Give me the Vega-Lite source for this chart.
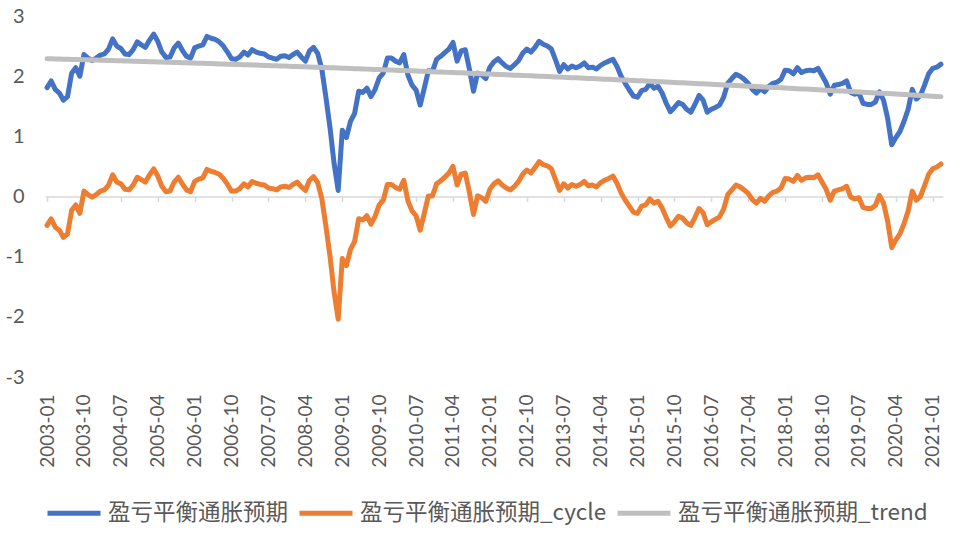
{
  "$schema": "https://vega.github.io/schema/vega-lite/v6.json",
  "width": 898,
  "height": 361,
  "autosize": {"type": "none"},
  "padding": {"left": 45, "top": 16, "right": 23, "bottom": 158},
  "background": "white",
  "config": {"view": {"stroke": null}},
  "data": {"values": [
{"m":"2003-01","a":1.81,"c":-0.48,"t":2.290},{"m":"2003-02","a":1.92,"c":-0.37,"t":2.288},{"m":"2003-03","a":1.78,"c":-0.51,"t":2.286},{"m":"2003-04","a":1.72,"c":-0.56,"t":2.284},{"m":"2003-05","a":1.60,"c":-0.68,"t":2.282},{"m":"2003-06","a":1.66,"c":-0.62,"t":2.281},{"m":"2003-07","a":2.05,"c":-0.23,"t":2.279},{"m":"2003-08","a":2.14,"c":-0.14,"t":2.277},{"m":"2003-09","a":2.00,"c":-0.28,"t":2.275},{"m":"2003-10","a":2.36,"c":0.09,"t":2.273},{"m":"2003-11","a":2.30,"c":0.03,"t":2.271},{"m":"2003-12","a":2.26,"c":-0.01,"t":2.269},
{"m":"2004-01","a":2.30,"c":0.03,"t":2.267},{"m":"2004-02","a":2.35,"c":0.09,"t":2.265},{"m":"2004-03","a":2.37,"c":0.11,"t":2.263},{"m":"2004-04","a":2.45,"c":0.19,"t":2.261},{"m":"2004-05","a":2.62,"c":0.36,"t":2.259},{"m":"2004-06","a":2.50,"c":0.24,"t":2.257},{"m":"2004-07","a":2.46,"c":0.21,"t":2.255},{"m":"2004-08","a":2.37,"c":0.12,"t":2.253},{"m":"2004-09","a":2.36,"c":0.11,"t":2.251},{"m":"2004-10","a":2.44,"c":0.19,"t":2.249},{"m":"2004-11","a":2.57,"c":0.32,"t":2.247},{"m":"2004-12","a":2.52,"c":0.28,"t":2.245},
{"m":"2005-01","a":2.48,"c":0.24,"t":2.243},{"m":"2005-02","a":2.60,"c":0.36,"t":2.241},{"m":"2005-03","a":2.70,"c":0.46,"t":2.238},{"m":"2005-04","a":2.58,"c":0.34,"t":2.236},{"m":"2005-05","a":2.40,"c":0.17,"t":2.234},{"m":"2005-06","a":2.31,"c":0.08,"t":2.232},{"m":"2005-07","a":2.32,"c":0.09,"t":2.230},{"m":"2005-08","a":2.47,"c":0.24,"t":2.228},{"m":"2005-09","a":2.55,"c":0.32,"t":2.226},{"m":"2005-10","a":2.43,"c":0.21,"t":2.224},{"m":"2005-11","a":2.33,"c":0.11,"t":2.222},{"m":"2005-12","a":2.30,"c":0.08,"t":2.220},
{"m":"2006-01","a":2.47,"c":0.25,"t":2.217},{"m":"2006-02","a":2.50,"c":0.29,"t":2.215},{"m":"2006-03","a":2.52,"c":0.31,"t":2.213},{"m":"2006-04","a":2.66,"c":0.45,"t":2.211},{"m":"2006-05","a":2.63,"c":0.42,"t":2.209},{"m":"2006-06","a":2.61,"c":0.40,"t":2.207},{"m":"2006-07","a":2.57,"c":0.37,"t":2.204},{"m":"2006-08","a":2.50,"c":0.30,"t":2.202},{"m":"2006-09","a":2.40,"c":0.20,"t":2.200},{"m":"2006-10","a":2.29,"c":0.09,"t":2.197},{"m":"2006-11","a":2.28,"c":0.09,"t":2.195},{"m":"2006-12","a":2.32,"c":0.13,"t":2.193},
{"m":"2007-01","a":2.40,"c":0.21,"t":2.190},{"m":"2007-02","a":2.35,"c":0.16,"t":2.188},{"m":"2007-03","a":2.44,"c":0.25,"t":2.186},{"m":"2007-04","a":2.40,"c":0.22,"t":2.184},{"m":"2007-05","a":2.38,"c":0.20,"t":2.181},{"m":"2007-06","a":2.37,"c":0.19,"t":2.179},{"m":"2007-07","a":2.32,"c":0.14,"t":2.176},{"m":"2007-08","a":2.30,"c":0.13,"t":2.174},{"m":"2007-09","a":2.28,"c":0.11,"t":2.172},{"m":"2007-10","a":2.33,"c":0.16,"t":2.169},{"m":"2007-11","a":2.34,"c":0.17,"t":2.167},{"m":"2007-12","a":2.31,"c":0.15,"t":2.164},
{"m":"2008-01","a":2.36,"c":0.20,"t":2.162},{"m":"2008-02","a":2.40,"c":0.24,"t":2.160},{"m":"2008-03","a":2.32,"c":0.16,"t":2.157},{"m":"2008-04","a":2.25,"c":0.10,"t":2.155},{"m":"2008-05","a":2.42,"c":0.27,"t":2.152},{"m":"2008-06","a":2.48,"c":0.33,"t":2.150},{"m":"2008-07","a":2.38,"c":0.23,"t":2.148},{"m":"2008-08","a":2.12,"c":-0.03,"t":2.145},{"m":"2008-09","a":1.65,"c":-0.49,"t":2.143},{"m":"2008-10","a":1.15,"c":-0.99,"t":2.140},{"m":"2008-11","a":0.55,"c":-1.59,"t":2.138},{"m":"2008-12","a":0.10,"c":-2.04,"t":2.135},
{"m":"2009-01","a":1.10,"c":-1.03,"t":2.133},{"m":"2009-02","a":0.98,"c":-1.15,"t":2.130},{"m":"2009-03","a":1.25,"c":-0.88,"t":2.127},{"m":"2009-04","a":1.38,"c":-0.75,"t":2.125},{"m":"2009-05","a":1.75,"c":-0.37,"t":2.122},{"m":"2009-06","a":1.73,"c":-0.39,"t":2.120},{"m":"2009-07","a":1.80,"c":-0.32,"t":2.117},{"m":"2009-08","a":1.66,"c":-0.46,"t":2.115},{"m":"2009-09","a":1.78,"c":-0.33,"t":2.112},{"m":"2009-10","a":1.97,"c":-0.14,"t":2.109},{"m":"2009-11","a":2.05,"c":-0.06,"t":2.107},{"m":"2009-12","a":2.30,"c":0.20,"t":2.104},
{"m":"2010-01","a":2.30,"c":0.20,"t":2.101},{"m":"2010-02","a":2.25,"c":0.15,"t":2.099},{"m":"2010-03","a":2.22,"c":0.12,"t":2.096},{"m":"2010-04","a":2.36,"c":0.27,"t":2.093},{"m":"2010-05","a":2.02,"c":-0.07,"t":2.090},{"m":"2010-06","a":1.85,"c":-0.24,"t":2.088},{"m":"2010-07","a":1.77,"c":-0.32,"t":2.085},{"m":"2010-08","a":1.52,"c":-0.56,"t":2.082},{"m":"2010-09","a":1.80,"c":-0.28,"t":2.080},{"m":"2010-10","a":2.09,"c":0.01,"t":2.077},{"m":"2010-11","a":2.08,"c":0.01,"t":2.074},{"m":"2010-12","a":2.28,"c":0.21,"t":2.071},
{"m":"2011-01","a":2.33,"c":0.26,"t":2.069},{"m":"2011-02","a":2.39,"c":0.32,"t":2.066},{"m":"2011-03","a":2.45,"c":0.39,"t":2.063},{"m":"2011-04","a":2.56,"c":0.50,"t":2.061},{"m":"2011-05","a":2.25,"c":0.19,"t":2.058},{"m":"2011-06","a":2.42,"c":0.37,"t":2.055},{"m":"2011-07","a":2.44,"c":0.39,"t":2.052},{"m":"2011-08","a":2.12,"c":0.07,"t":2.049},{"m":"2011-09","a":1.75,"c":-0.30,"t":2.046},{"m":"2011-10","a":2.05,"c":0.01,"t":2.043},{"m":"2011-11","a":2.02,"c":-0.02,"t":2.041},{"m":"2011-12","a":1.96,"c":-0.08,"t":2.038},
{"m":"2012-01","a":2.15,"c":0.12,"t":2.035},{"m":"2012-02","a":2.24,"c":0.21,"t":2.032},{"m":"2012-03","a":2.29,"c":0.26,"t":2.029},{"m":"2012-04","a":2.22,"c":0.19,"t":2.026},{"m":"2012-05","a":2.16,"c":0.14,"t":2.023},{"m":"2012-06","a":2.13,"c":0.11,"t":2.020},{"m":"2012-07","a":2.19,"c":0.17,"t":2.017},{"m":"2012-08","a":2.26,"c":0.25,"t":2.014},{"m":"2012-09","a":2.38,"c":0.37,"t":2.012},{"m":"2012-10","a":2.45,"c":0.44,"t":2.009},{"m":"2012-11","a":2.40,"c":0.39,"t":2.006},{"m":"2012-12","a":2.48,"c":0.48,"t":2.003},
{"m":"2013-01","a":2.58,"c":0.58,"t":2.000},{"m":"2013-02","a":2.53,"c":0.53,"t":1.997},{"m":"2013-03","a":2.50,"c":0.51,"t":1.994},{"m":"2013-04","a":2.45,"c":0.46,"t":1.991},{"m":"2013-05","a":2.27,"c":0.28,"t":1.988},{"m":"2013-06","a":2.08,"c":0.10,"t":1.985},{"m":"2013-07","a":2.19,"c":0.21,"t":1.981},{"m":"2013-08","a":2.12,"c":0.14,"t":1.978},{"m":"2013-09","a":2.17,"c":0.20,"t":1.975},{"m":"2013-10","a":2.14,"c":0.17,"t":1.972},{"m":"2013-11","a":2.17,"c":0.20,"t":1.969},{"m":"2013-12","a":2.22,"c":0.25,"t":1.966},
{"m":"2014-01","a":2.14,"c":0.18,"t":1.963},{"m":"2014-02","a":2.15,"c":0.19,"t":1.960},{"m":"2014-03","a":2.12,"c":0.16,"t":1.957},{"m":"2014-04","a":2.18,"c":0.23,"t":1.954},{"m":"2014-05","a":2.22,"c":0.27,"t":1.950},{"m":"2014-06","a":2.25,"c":0.30,"t":1.947},{"m":"2014-07","a":2.28,"c":0.34,"t":1.944},{"m":"2014-08","a":2.16,"c":0.22,"t":1.941},{"m":"2014-09","a":2.00,"c":0.06,"t":1.938},{"m":"2014-10","a":1.88,"c":-0.06,"t":1.935},{"m":"2014-11","a":1.77,"c":-0.16,"t":1.932},{"m":"2014-12","a":1.67,"c":-0.26,"t":1.928},
{"m":"2015-01","a":1.65,"c":-0.28,"t":1.925},{"m":"2015-02","a":1.76,"c":-0.16,"t":1.922},{"m":"2015-03","a":1.78,"c":-0.14,"t":1.919},{"m":"2015-04","a":1.88,"c":-0.04,"t":1.915},{"m":"2015-05","a":1.80,"c":-0.11,"t":1.912},{"m":"2015-06","a":1.83,"c":-0.08,"t":1.909},{"m":"2015-07","a":1.72,"c":-0.19,"t":1.906},{"m":"2015-08","a":1.55,"c":-0.35,"t":1.902},{"m":"2015-09","a":1.41,"c":-0.49,"t":1.899},{"m":"2015-10","a":1.48,"c":-0.42,"t":1.896},{"m":"2015-11","a":1.56,"c":-0.33,"t":1.892},{"m":"2015-12","a":1.53,"c":-0.36,"t":1.889},
{"m":"2016-01","a":1.45,"c":-0.44,"t":1.885},{"m":"2016-02","a":1.40,"c":-0.48,"t":1.882},{"m":"2016-03","a":1.53,"c":-0.35,"t":1.879},{"m":"2016-04","a":1.68,"c":-0.20,"t":1.875},{"m":"2016-05","a":1.60,"c":-0.27,"t":1.872},{"m":"2016-06","a":1.40,"c":-0.47,"t":1.869},{"m":"2016-07","a":1.45,"c":-0.42,"t":1.865},{"m":"2016-08","a":1.48,"c":-0.38,"t":1.862},{"m":"2016-09","a":1.52,"c":-0.34,"t":1.858},{"m":"2016-10","a":1.65,"c":-0.21,"t":1.855},{"m":"2016-11","a":1.88,"c":0.03,"t":1.851},{"m":"2016-12","a":1.96,"c":0.11,"t":1.848},
{"m":"2017-01","a":2.03,"c":0.19,"t":1.845},{"m":"2017-02","a":2.00,"c":0.16,"t":1.841},{"m":"2017-03","a":1.95,"c":0.11,"t":1.838},{"m":"2017-04","a":1.88,"c":0.05,"t":1.834},{"m":"2017-05","a":1.78,"c":-0.05,"t":1.831},{"m":"2017-06","a":1.72,"c":-0.11,"t":1.827},{"m":"2017-07","a":1.79,"c":-0.03,"t":1.824},{"m":"2017-08","a":1.74,"c":-0.08,"t":1.820},{"m":"2017-09","a":1.83,"c":0.01,"t":1.817},{"m":"2017-10","a":1.88,"c":0.07,"t":1.813},{"m":"2017-11","a":1.90,"c":0.09,"t":1.810},{"m":"2017-12","a":1.95,"c":0.14,"t":1.806},
{"m":"2018-01","a":2.10,"c":0.30,"t":1.803},{"m":"2018-02","a":2.09,"c":0.29,"t":1.799},{"m":"2018-03","a":2.04,"c":0.25,"t":1.795},{"m":"2018-04","a":2.14,"c":0.35,"t":1.792},{"m":"2018-05","a":2.06,"c":0.27,"t":1.788},{"m":"2018-06","a":2.09,"c":0.31,"t":1.785},{"m":"2018-07","a":2.10,"c":0.32,"t":1.781},{"m":"2018-08","a":2.09,"c":0.31,"t":1.777},{"m":"2018-09","a":2.13,"c":0.36,"t":1.774},{"m":"2018-10","a":2.01,"c":0.24,"t":1.770},{"m":"2018-11","a":1.89,"c":0.12,"t":1.767},{"m":"2018-12","a":1.70,"c":-0.06,"t":1.763},
{"m":"2019-01","a":1.85,"c":0.09,"t":1.759},{"m":"2019-02","a":1.86,"c":0.11,"t":1.755},{"m":"2019-03","a":1.88,"c":0.13,"t":1.752},{"m":"2019-04","a":1.92,"c":0.17,"t":1.748},{"m":"2019-05","a":1.73,"c":-0.01,"t":1.744},{"m":"2019-06","a":1.70,"c":-0.04,"t":1.740},{"m":"2019-07","a":1.72,"c":-0.02,"t":1.737},{"m":"2019-08","a":1.55,"c":-0.18,"t":1.733},{"m":"2019-09","a":1.53,"c":-0.20,"t":1.729},{"m":"2019-10","a":1.53,"c":-0.20,"t":1.725},{"m":"2019-11","a":1.57,"c":-0.15,"t":1.721},{"m":"2019-12","a":1.74,"c":0.02,"t":1.718},
{"m":"2020-01","a":1.60,"c":-0.11,"t":1.714},{"m":"2020-02","a":1.30,"c":-0.41,"t":1.710},{"m":"2020-03","a":0.86,"c":-0.85,"t":1.706},{"m":"2020-04","a":0.98,"c":-0.72,"t":1.702},{"m":"2020-05","a":1.08,"c":-0.62,"t":1.698},{"m":"2020-06","a":1.25,"c":-0.45,"t":1.695},{"m":"2020-07","a":1.45,"c":-0.24,"t":1.691},{"m":"2020-08","a":1.78,"c":0.09,"t":1.687},{"m":"2020-09","a":1.62,"c":-0.06,"t":1.683},{"m":"2020-10","a":1.68,"c":0.00,"t":1.679},{"m":"2020-11","a":1.85,"c":0.18,"t":1.675},{"m":"2020-12","a":2.04,"c":0.37,"t":1.671},
{"m":"2021-01","a":2.13,"c":0.46,"t":1.668},{"m":"2021-02","a":2.15,"c":0.49,"t":1.664},{"m":"2021-03","a":2.20,"c":0.54,"t":1.660}
  ]},
  "transform": [{"fold": ["a", "c", "t"], "as": ["s", "v"]}],
  "encoding": {
    "y": {"field": "v", "type": "quantitative", "scale": {"domain": [-3, 3], "nice": false, "zero": false},
      "axis": {"title": null, "values": [-3, -2, -1, 0, 1, 2, 3], "domain": false, "ticks": false, "grid": false, "labelPadding": 21, "labelFont": "Lato", "labelFontSize": 20, "labelColor": "#595959",
        "labelExpr": "replace(datum.label, '−', '-')"}}
  },
  "layer": [
    {
      "mark": {"type": "line", "opacity": 0, "strokeWidth": 0},
      "encoding": {
        "x": {"field": "m", "type": "ordinal", "sort": null, "scale": {"type": "point", "padding": 0.5},
          "axis": {"orient": "top", "offset": -180.5, "title": null, "labels": false, "grid": false,
            "domain": true, "domainColor": "#D9D9D9", "domainWidth": 1.5,
            "ticks": true, "tickColor": "#D9D9D9", "tickWidth": 1.5, "tickSize": -5,
            "values": ["2003-01","2003-10","2004-07","2005-04","2006-01","2006-10","2007-07","2008-04","2009-01","2009-10","2010-07","2011-04","2012-01","2012-10","2013-07","2014-04","2015-01","2015-10","2016-07","2017-04","2018-01","2018-10","2019-07","2020-04","2021-01"]}}
      }
    },
    {
      "mark": {"type": "line", "strokeJoin": "round", "strokeCap": "round"},
      "encoding": {
        "x": {"field": "m", "type": "ordinal", "sort": null, "scale": {"type": "point", "padding": 0.5},
          "axis": {"orient": "bottom", "title": null, "domain": false, "ticks": false, "grid": false,
            "labelAngle": -90, "labelPadding": 17, "labelFont": "Lato", "labelFontSize": 19, "labelColor": "#595959", "labelOverlap": false,
            "values": ["2003-01","2003-10","2004-07","2005-04","2006-01","2006-10","2007-07","2008-04","2009-01","2009-10","2010-07","2011-04","2012-01","2012-10","2013-07","2014-04","2015-01","2015-10","2016-07","2017-04","2018-01","2018-10","2019-07","2020-04","2021-01"]}},
        "color": {"field": "s", "type": "nominal",
          "scale": {"domain": ["a", "c", "t"], "range": ["#4472C4", "#ED7D31", "#BFBFBF"]},
          "legend": {"title": null, "orient": "none", "direction": "horizontal", "legendX": 0, "legendY": 468, "padding": 0,
            "symbolType": "stroke", "symbolSize": 2809, "symbolStrokeWidth": 5, "labelOffset": 5, "columnPadding": 0,
            "labelFont": "Noto Sans CJK SC", "labelFontSize": 22.5, "labelColor": "#595959", "labelLimit": 400,
            "labelExpr": "datum.label == 'a' ? '盈亏平衡通胀预期' : datum.label == 'c' ? '盈亏平衡通胀预期_cycle' : '盈亏平衡通胀预期_trend'"}},
        "strokeWidth": {"field": "s", "type": "nominal", "scale": {"domain": ["a", "c", "t"], "range": [5, 5, 6]}, "legend": null}
      }
    }
  ],
  "resolve": {"axis": {"x": "independent"}}
}
